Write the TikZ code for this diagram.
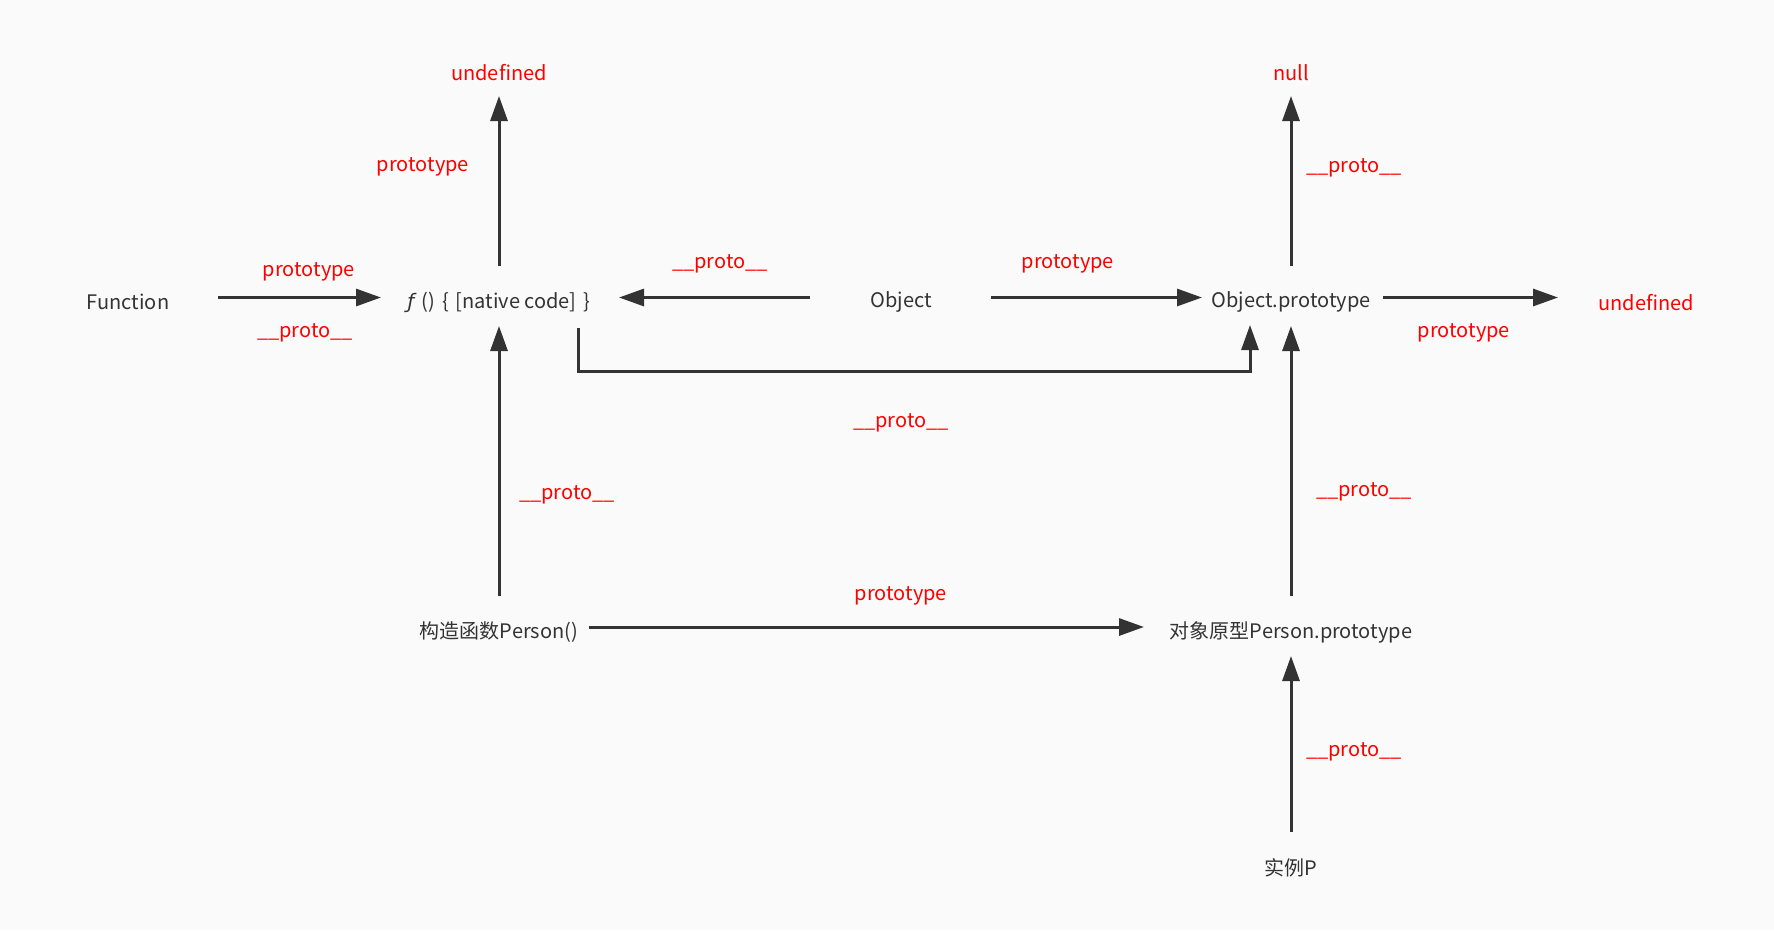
\documentclass[tikz,border=0pt]{standalone}
\usepackage{fontspec}
\setmainfont{Noto Sans CJK SC}
\newfontfamily\dvfont{DejaVu Sans}
\usetikzlibrary{arrows.meta,calc}
\definecolor{bg}{HTML}{FAFAFA}
\definecolor{ink}{HTML}{333333}
\definecolor{lab}{HTML}{FF0000}
\tikzset{
  obj/.style={text=ink, font=\fontsize{20}{24}\selectfont, inner sep=0pt, yshift=-2pt},
  lbl/.style={text=lab, font=\fontsize{20}{24}\selectfont, inner sep=0pt, yshift=-3pt},
  arr/.style={draw=ink, line width=3pt, -{Triangle[length=25pt,width=17pt]}},
  ln/.style={draw=ink, line width=3pt}
}
\newcommand{\gp}{\hspace{7pt}}
\begin{document}
\begin{tikzpicture}[x=1pt,y=-1pt]
\useasboundingbox (0,0) rectangle (1774,930);
\fill[bg] (0,0) rectangle (1774,930);

% nodes
\node[obj] (fn) at (128,300) {Function};
\node[obj] (fc) at (499,300) {{\dvfont\itshape ƒ}\gp()\gp\{\gp[native code]\gp\}};
\node[obj] (ob) at (901,300) {Object};
\node[obj] (op) at (1291,300) {Object.prototype};
\node[lbl] (u2) at (1646,300) {undefined};
\node[lbl] (u1) at (499,70) {undefined};
\node[lbl] (nl) at (1291,70) {null};
\node[obj] (pc) at (499,630) {构造函数Person()};
\node[obj] (pp) at (1291,630) {对象原型Person.prototype};
\node[obj] (ip) at (1291,866) {实例P};

% connectors
\draw[arr] ($(fn)+(90,-4.5)$) -- ($(fc)+(-118,-4.5)$);
\draw[arr] ($(fc)+(0,-36)$) -- ($(u1)+(0,23)$);
\draw[arr] ($(ob)+(-91,-4.5)$) -- ($(fc)+(120,-4.5)$);
\draw[arr] ($(ob)+(90,-4.5)$) -- ($(op)+(-89,-4.5)$);
\draw[arr] ($(op)+(0,-36)$) -- ($(nl)+(0,23)$);
\draw[arr] ($(op)+(92,-4.5)$) -- ($(u2)+(-88,-5.5)$);
\draw[arr] ($(fc)+(79,26)$) -- ++(0,43) -| ($(op)+(-41,23)$);
\draw[arr] ($(pc)+(0,-36)$) -- ($(fc)+(0,24)$);
\draw[arr] ($(pc)+(90,-5)$) -- ($(pp)+(-147,-5)$);
\draw[arr] ($(pp)+(0,-36)$) -- ($(op)+(0,24)$);
\draw[arr] ($(ip)+(0,-36)$) -- ($(pp)+(0,24)$);

% labels
\node[lbl] (l1) at (309,269) {prototype};
\node[lbl] (l2) at (305,330) {\_\_proto\_\_};
\node[lbl] (l3) at (423,164) {prototype};
\node[lbl] (l4) at (720,261) {\_\_proto\_\_};
\node[lbl] (l5) at (1068,261) {prototype};
\node[lbl] (l6) at (1354,165) {\_\_proto\_\_};
\node[lbl] (l7) at (1464,330) {prototype};
\node[lbl] (l8) at (901,420) {\_\_proto\_\_};
\node[lbl] (l9) at (567,492) {\_\_proto\_\_};
\node[lbl] (l10) at (901,593) {prototype};
\node[lbl] (l11) at (1364,489) {\_\_proto\_\_};
\node[lbl] (l12) at (1354,749) {\_\_proto\_\_};
\end{tikzpicture}
\end{document}
